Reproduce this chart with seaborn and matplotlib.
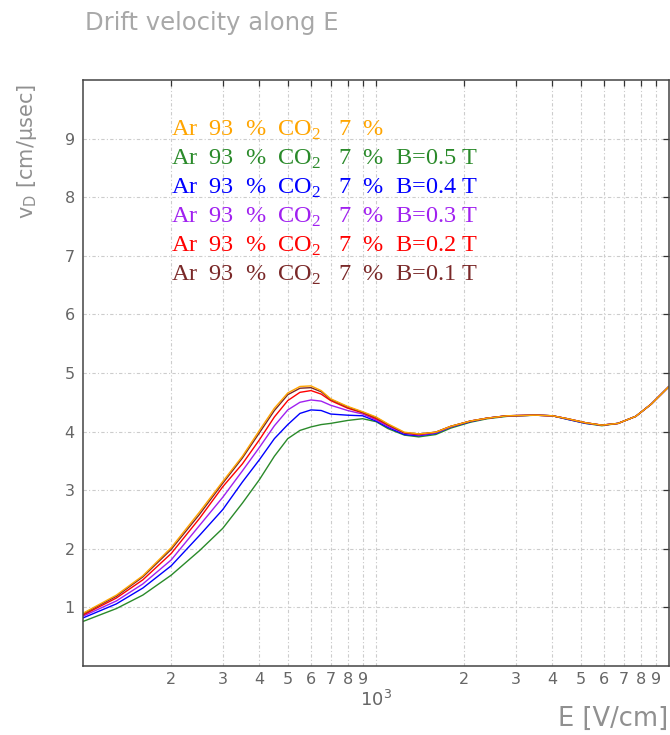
import numpy as np
import pandas as pd
import matplotlib
matplotlib.use("Agg")
import matplotlib.pyplot as plt
import seaborn as sns
from matplotlib.ticker import FixedLocator, FixedFormatter

# Electric field [V/cm]
field = [100, 130, 160, 200, 250, 300, 350, 400, 450, 500,
         550, 600, 650, 700, 800, 900, 1000, 1100, 1250, 1400,
         1600, 1800, 2100, 2400, 2800, 3500, 4000, 4500, 5200, 5900,
         6700, 7700, 8700, 10000]

# Drift velocity along E [cm/us] for each magnetic field
v_b00 = [0.90, 1.21, 1.54, 2.02, 2.63, 3.15, 3.58, 4.02, 4.40, 4.66,
         4.77, 4.78, 4.70, 4.56, 4.43, 4.34, 4.25, 4.13, 3.99, 3.96,
         3.99, 4.09, 4.18, 4.23, 4.27, 4.28, 4.27, 4.22, 4.15, 4.11,
         4.14, 4.26, 4.47, 4.77]
v_b01 = [0.89, 1.19, 1.52, 1.99, 2.59, 3.12, 3.55, 3.98, 4.36, 4.63,
         4.74, 4.75, 4.68, 4.55, 4.42, 4.33, 4.24, 4.12, 3.98, 3.96,
         3.99, 4.09, 4.18, 4.23, 4.27, 4.28, 4.27, 4.22, 4.15, 4.11,
         4.14, 4.26, 4.47, 4.77]
v_b02 = [0.87, 1.16, 1.47, 1.92, 2.52, 3.06, 3.45, 3.86, 4.25, 4.53,
         4.67, 4.70, 4.64, 4.53, 4.40, 4.32, 4.22, 4.11, 3.98, 3.95,
         3.99, 4.09, 4.18, 4.23, 4.27, 4.28, 4.27, 4.22, 4.15, 4.11,
         4.14, 4.26, 4.47, 4.77]
v_b03 = [0.85, 1.11, 1.40, 1.81, 2.40, 2.88, 3.33, 3.73, 4.10, 4.37,
         4.50, 4.54, 4.52, 4.45, 4.36, 4.30, 4.20, 4.09, 3.97, 3.94,
         3.98, 4.08, 4.18, 4.23, 4.27, 4.28, 4.27, 4.22, 4.15, 4.11,
         4.14, 4.26, 4.47, 4.77]
v_b04 = [0.82, 1.06, 1.33, 1.71, 2.23, 2.67, 3.14, 3.52, 3.88, 4.12,
         4.31, 4.37, 4.36, 4.30, 4.28, 4.27, 4.18, 4.07, 3.95, 3.93,
         3.97, 4.08, 4.17, 4.23, 4.27, 4.28, 4.27, 4.21, 4.14, 4.11,
         4.14, 4.26, 4.47, 4.77]
v_b05 = [0.76, 0.98, 1.21, 1.55, 1.97, 2.35, 2.78, 3.18, 3.58, 3.88,
         4.02, 4.08, 4.12, 4.14, 4.19, 4.22, 4.17, 4.05, 3.94, 3.91,
         3.95, 4.06, 4.16, 4.22, 4.26, 4.28, 4.27, 4.21, 4.14, 4.10,
         4.14, 4.26, 4.47, 4.77]

series_names = ["B=0.5 T", "B=0.4 T", "B=0.3 T", "B=0.2 T", "B=0.1 T", "B=0"]
series_values = [v_b05, v_b04, v_b03, v_b02, v_b01, v_b00]
series_colors = ["#2a8a2a", "#0000ff", "#a020f0", "#ff0000", "#7a2828", "#ffa500"]

# Legend lines, top to bottom
gas = r"Ar  93  %  CO$_\mathregular{2}$   7  %"
legend_labels = [gas,
                 gas + "  B=0.5 T",
                 gas + "  B=0.4 T",
                 gas + "  B=0.3 T",
                 gas + "  B=0.2 T",
                 gas + "  B=0.1 T"]
legend_colors = ["#ffa500", "#2a8a2a", "#0000ff", "#a020f0", "#ff0000", "#7a2828"]

x_minor = [200, 300, 400, 500, 600, 700, 800, 900,
           2000, 3000, 4000, 5000, 6000, 7000, 8000, 9000]
x_minor_labels = ["2", "3", "4", "5", "6", "7", "8", "9"] * 2
y_ticks = [1, 2, 3, 4, 5, 6, 7, 8, 9]

df = pd.concat([pd.DataFrame({"E": field, "v": vals, "B": name})
                for name, vals in zip(series_names, series_values)],
               ignore_index=True)

sns.set_style("white")

fig = plt.figure(figsize=(6.7, 7.35), dpi=100)
ax = fig.add_axes([83 / 670, 1 - 666 / 735, 586 / 670, 586 / 735])

sns.lineplot(data=df, x="E", y="v", hue="B", hue_order=series_names,
             palette=series_colors, estimator=None, legend=False,
             linewidth=1.0, ax=ax)

ax.set_xscale("log")
ax.set_xlim(100, 10000)
ax.set_ylim(0, 10)

ax.xaxis.set_major_locator(FixedLocator([1000]))
ax.xaxis.set_major_formatter(FixedFormatter([r"$\mathregular{10^3}$"]))
ax.xaxis.set_minor_locator(FixedLocator(x_minor))
ax.xaxis.set_minor_formatter(FixedFormatter(x_minor_labels))
ax.set_yticks(y_ticks)
ax.set_yticklabels([str(t) for t in y_ticks])

grid_kw = dict(color="#cccccc", linewidth=0.8, linestyle=(0, (3, 2, 1, 2)))
ax.grid(True, which="major", axis="both", **grid_kw)
ax.grid(True, which="minor", axis="x", **grid_kw)

ax.tick_params(axis="both", which="both", direction="in", top=True, right=True,
               length=4, width=0.9, color="#333333", labelcolor="#666666",
               labelsize=11.5)
ax.tick_params(axis="x", which="major", pad=17, labelsize=13)
ax.tick_params(axis="x", which="minor", pad=4)
ax.tick_params(axis="y", pad=6)

for side in ["left", "bottom", "right", "top"]:
    ax.spines[side].set_color("#444444")
    ax.spines[side].set_linewidth(1.1)

ax.set_xlabel("")
ax.set_ylabel("")

fig.text(85 / 670, 1 - 23 / 735, "Drift velocity along E", ha="left",
         va="center", fontsize=17.5, color="#a8a8a8")
fig.text(668 / 670, 1 - 719 / 735, "E [V/cm]", ha="right", va="center",
         fontsize=18.5, color="#909090")
fig.text(27 / 670, 1 - 84 / 735, r"v$_\mathregular{D}$ [cm/$\mathregular{\mu}$sec]",
         rotation=90, ha="center", va="top", fontsize=15, color="#909090")

for i, (lab, col) in enumerate(zip(legend_labels, legend_colors)):
    fig.text(171 / 670, 1 - (130 + 29 * i) / 735, lab, ha="left", va="center",
             fontsize=17.5, color=col, family="Liberation Serif")

fig.savefig("out.png", dpi=100)
